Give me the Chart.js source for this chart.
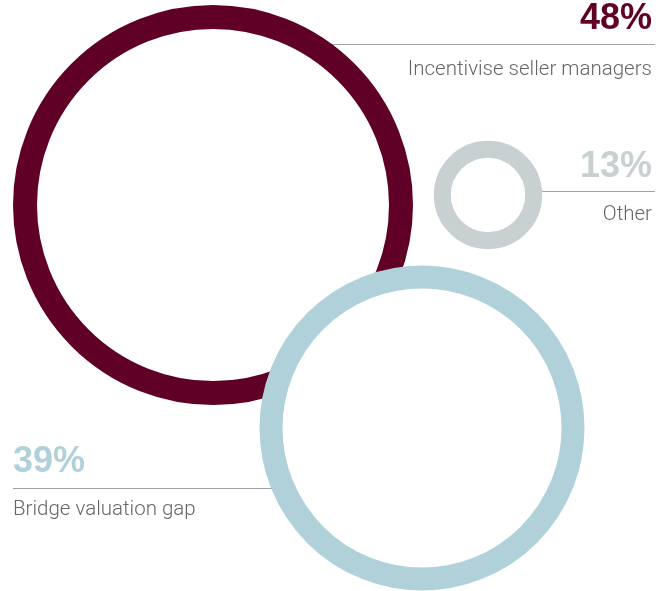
<!DOCTYPE html>
<html>
<head>
<meta charset="utf-8">
<script src="https://cdn.jsdelivr.net/npm/chart.js@4"></script>
<style>
  html, body { margin: 0; padding: 0; background: #fff; }
  #wrap { width: 669px; height: 591px; }
</style>
</head>
<body>
<div id="wrap"><canvas id="rings" width="669" height="591"></canvas></div>
<script>
const categories = ['Incentivise seller managers', 'Other', 'Bridge valuation gap'];
const shares = [48, 13, 39];
const ringColors = ['#600026', '#c8d0d2', '#b0d1da'];

// where each ring sits on the 669 x 591 grid, and its stroke width
const centers = [[213, 205], [488, 195], [422, 428]];
const strokes = [24, 17, 23];
const pxPerPoint = 200 / 48; // outer radius per percentage point

// text block per ring: anchor x, alignment, baselines of value / rule / label
const labelSpots = [
  { x: 652, align: 'right', value: 29, rule: 44.5, ruleEnd: 655, label: 75 },
  { x: 652, align: 'right', value: 177, rule: 191.5, ruleEnd: 655, label: 220 },
  { x: 13, align: 'left', value: 472, rule: 488.5, ruleEnd: 13, label: 515 }
];

const rings = shares.map((v, i) => ({
  x: centers[i][0],
  y: centers[i][1],
  r: v * pxPerPoint - strokes[i] / 2
}));

const ringLabels = {
  id: 'ringLabels',
  beforeDatasetsDraw(chart) {
    const ctx = chart.ctx;
    const pts = chart.getDatasetMeta(0).data;
    ctx.save();
    ctx.strokeStyle = '#a3a3a3';
    ctx.lineWidth = 1;
    labelSpots.forEach((s, i) => {
      ctx.beginPath();
      ctx.moveTo(pts[i].x, s.rule);
      ctx.lineTo(s.ruleEnd, s.rule);
      ctx.stroke();
    });
    ctx.restore();
  },
  afterDatasetsDraw(chart) {
    const ctx = chart.ctx;
    ctx.save();
    ctx.textBaseline = 'alphabetic';
    labelSpots.forEach((s, i) => {
      ctx.textAlign = s.align;
      ctx.fillStyle = ringColors[i];
      ctx.font = 'bold 36px "Liberation Sans", Arial, sans-serif';
      ctx.fillText(shares[i] + '%', s.x, s.value);
      ctx.fillStyle = '#666666';
      ctx.font = '300 20.5px Roboto, "Liberation Sans", sans-serif';
      ctx.fillText(categories[i], s.x, s.label);
    });
    ctx.restore();
  }
};

new Chart(document.getElementById('rings'), {
  type: 'bubble',
  data: {
    datasets: [{
      data: rings,
      backgroundColor: '#ffffff',
      borderColor: ringColors,
      borderWidth: strokes,
      clip: false
    }]
  },
  options: {
    responsive: false,
    animation: false,
    events: [],
    layout: { padding: 0, autoPadding: false },
    plugins: { legend: { display: false }, tooltip: { enabled: false } },
    scales: {
      x: { type: 'linear', min: 0, max: 669, display: false },
      y: { type: 'linear', min: 0, max: 591, reverse: true, display: false }
    }
  },
  plugins: [ringLabels]
});
</script>
</body>
</html>
